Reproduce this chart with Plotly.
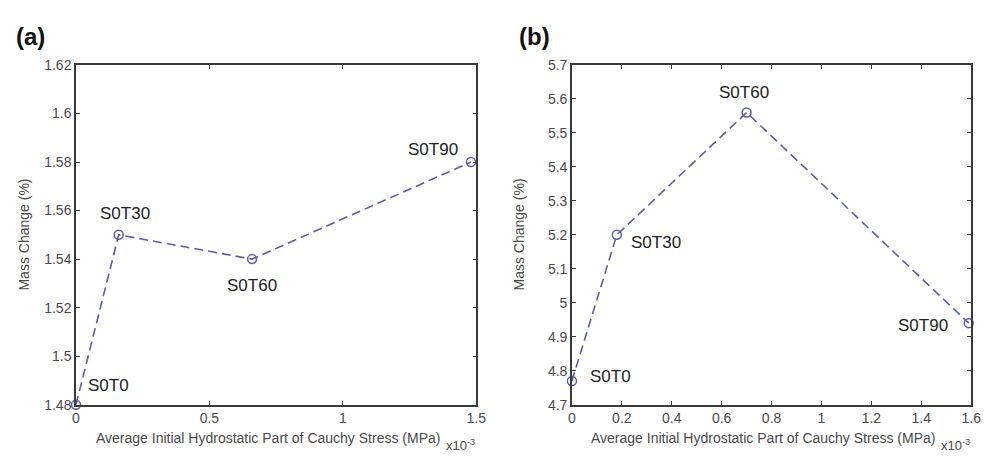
import plotly.graph_objects as go

# Panel (a)
a_x = [0.0, 0.16, 0.66, 1.48]
a_y = [1.48, 1.55, 1.54, 1.58]
a_labels = ["S0T0", "S0T30", "S0T60", "S0T90"]

# Panel (b)
b_x = [0.0, 0.18, 0.70, 1.59]
b_y = [4.77, 5.20, 5.56, 4.94]
b_labels = ["S0T0", "S0T30", "S0T60", "S0T90"]

y_title = "Mass Change (%)"
x_title = "Average Initial Hydrostatic Part of Cauchy Stress (MPa)"

LINE = "#5c5cae"
FONT = "Arial, Liberation Sans, sans-serif"
TICKC = "#4a4a4a"
AXC = "#3a3a3a"

fig = go.Figure()
for xs_, ys_, xa, ya in [(a_x, a_y, "x", "y"), (b_x, b_y, "x2", "y2")]:
    fig.add_trace(go.Scatter(x=xs_, y=ys_, mode="lines+markers", xaxis=xa, yaxis=ya,
                             line=dict(color=LINE, width=1.6, dash="9px,5px"),
                             marker=dict(symbol="circle-open", size=9, color=LINE,
                                         line=dict(width=1.5)),
                             cliponaxis=False, showlegend=False))

def axis_common():
    return dict(showline=True, linecolor=AXC, linewidth=1.5, mirror="allticks",
                ticks="inside", ticklen=4, tickcolor=AXC, showgrid=False, zeroline=False,
                tickfont=dict(family=FONT, size=14, color=TICKC))

ydom = [49 / 460, 401 / 460]
fig.update_layout(
    width=998, height=460, margin=dict(l=0, r=0, t=0, b=0),
    plot_bgcolor="white", paper_bgcolor="white",
    xaxis=dict(domain=[73 / 998, 479 / 998], range=[0, 1.5], tickvals=[0, 0.5, 1, 1.5],
               anchor="y", **axis_common()),
    yaxis=dict(domain=ydom, range=[1.48, 1.62], dtick=0.02, tick0=1.48, anchor="x",
               **axis_common()),
    xaxis2=dict(domain=[576 / 998, 981 / 998], range=[0, 1.6], dtick=0.2, tick0=0,
                anchor="y2", **axis_common()),
    yaxis2=dict(domain=ydom, range=[4.7, 5.7], dtick=0.1, tick0=4.7, anchor="x2",
                **axis_common()),
)

ann = []
a_pos = [("left", 10, 19), ("center", 6, 21), ("center", 0, -26), ("right", -11, 13)]
for x, y, t, (xa, xs, ys) in zip(a_x, a_y, a_labels, a_pos):
    ann.append(dict(x=x, y=y, xref="x", yref="y", text=t, showarrow=False, xanchor=xa,
                    yanchor="middle", xshift=xs, yshift=ys,
                    font=dict(family=FONT, size=17, color="#222")))
b_pos = [("left", 16, 4), ("left", 12, -8), ("center", -3, 20), ("right", -19, -2)]
for x, y, t, (xa, xs, ys) in zip(b_x, b_y, b_labels, b_pos):
    ann.append(dict(x=x, y=y, xref="x2", yref="y2", text=t, showarrow=False, xanchor=xa,
                    yanchor="middle", xshift=xs, yshift=ys,
                    font=dict(family=FONT, size=17, color="#222")))

ann.append(dict(x=10 / 998, y=1 - 30 / 460, xref="paper", yref="paper", text="<b>(a)</b>",
                showarrow=False, xanchor="left", yanchor="middle",
                font=dict(family=FONT, size=24, color="#111")))
ann.append(dict(x=520 / 998, y=1 - 30 / 460, xref="paper", yref="paper", text="<b>(b)</b>",
                showarrow=False, xanchor="left", yanchor="middle",
                font=dict(family=FONT, size=24, color="#111")))

for cx in [268, 770]:
    ann.append(dict(x=cx / 998, y=1 - 446 / 460, xref="paper", yref="paper", text=x_title,
                    showarrow=False, xanchor="center", yanchor="middle",
                    font=dict(family=FONT, size=14, color=TICKC)))
for cx in [20, 522]:
    ann.append(dict(x=cx / 998, y=1 - 235 / 460, xref="paper", yref="paper", text=y_title,
                    showarrow=False, xanchor="center", yanchor="middle", textangle=-90,
                    font=dict(family=FONT, size=14, color=TICKC)))
for cx in [447, 949]:
    ann.append(dict(x=cx / 998, y=1 - 453 / 460, xref="paper", yref="paper",
                    text="x10<sup>-3</sup>", showarrow=False, xanchor="left", yanchor="middle",
                    borderpad=0, font=dict(family=FONT, size=13, color=TICKC)))

fig.update_layout(annotations=ann)
fig.write_html("out.html")
